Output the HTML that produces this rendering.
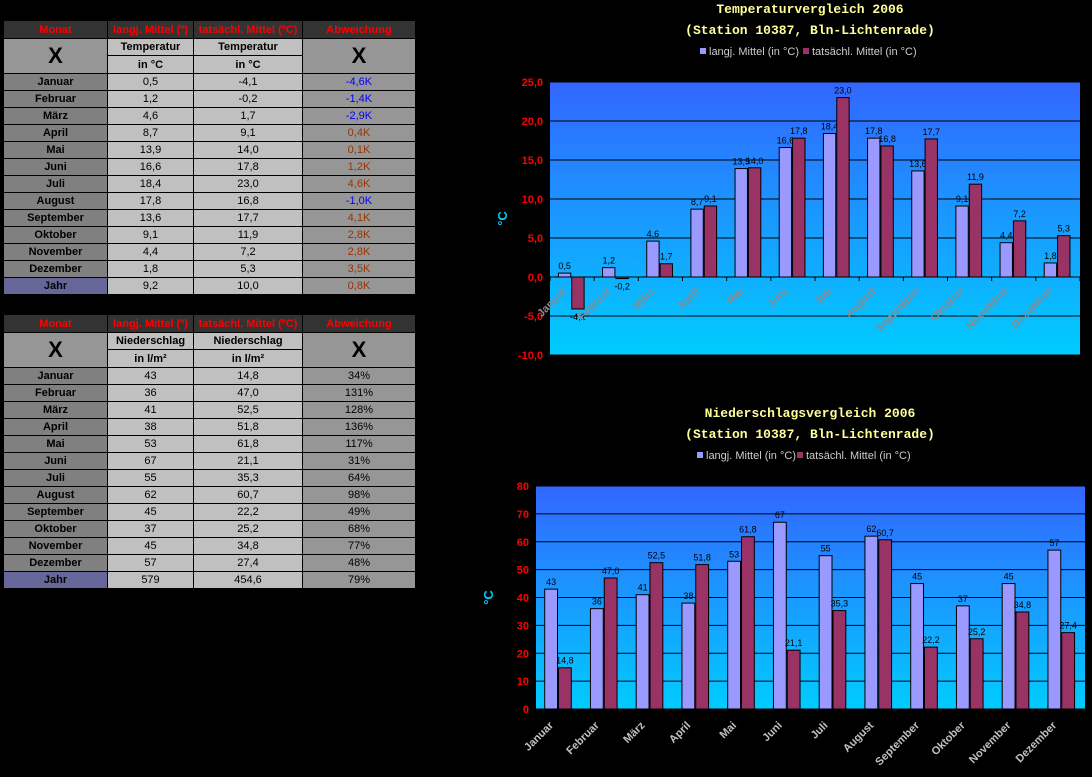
<!DOCTYPE html>
<html><head><meta charset="utf-8"><style>
body{margin:0;width:1092px;height:777px;background:#000;overflow:hidden;position:relative;font-family:"Liberation Sans",sans-serif}
.c{position:absolute;box-sizing:border-box;display:flex;align-items:center;justify-content:center;font-size:11px;color:#000;white-space:nowrap}
svg{position:absolute;left:0;top:0}
</style></head><body>
<div id="tables"></div>
<svg id="chart" width="1092" height="777"></svg>
<script>
const months=["Januar","Februar","März","April","Mai","Juni","Juli","August","September","Oktober","November","Dezember"];
const tempLong=[0.5,1.2,4.6,8.7,13.9,16.6,18.4,17.8,13.6,9.1,4.4,1.8];
const tempActual=[-4.1,-0.2,1.7,9.1,14.0,17.8,23.0,16.8,17.7,11.9,7.2,5.3];
const tempYearLong=9.2, tempYearActual=10.0;
const rainLong=[43,36,41,38,53,67,55,62,45,37,45,57];
const rainActual=[14.8,47.0,52.5,51.8,61.8,21.1,35.3,60.7,22.2,25.2,34.8,27.4];
const rainYearLong=579, rainYearActual=454.6;
const tempTicks=[25,20,15,10,5,0,-5,-10];
const rainTicks=[80,70,60,50,40,30,20,10,0];

const fmt1=v=>v.toFixed(1).replace('.',',');
const T=document.getElementById('tables');
const cols=[[4,107],[108,193],[194,302],[303,415]];
function cell(x1,x2,y,h,bg,txt,color,size,bold,name){
  const d=document.createElement('div');d.className='c';
  
  
  d.style.cssText+=`left:${x1}px;top:${y}px;width:${x2-x1}px;height:${h}px;background:${bg};color:${color};font-size:${size}px;font-weight:${bold?'bold':'normal'}`;
  d.textContent=txt;T.appendChild(d);
}
function table(y0,sub,unit,longArr,actArr,yl,ya,devFn,prefix,long0){
  const hdr=["Monat","langj. Mittel (º)","tatsächl. Mittel (ºC)","Abweichung"];
  hdr.forEach((h,i)=>cell(cols[i][0],cols[i][1],y0,17,'#333',h,'#ff0000',11,true,prefix+'-header-'+i));
  cell(cols[0][0],cols[0][1],y0+18,34,'#969696','X','#000',22,true,prefix+'-x-left');
  cell(cols[3][0],cols[3][1],y0+18,34,'#969696','X','#000',22,true,prefix+'-x-right');
  [1,2].forEach(i=>{cell(cols[i][0],cols[i][1],y0+18,16,'#c0c0c0',sub,'#000',11,true,prefix+'-sub-'+i);
    cell(cols[i][0],cols[i][1],y0+35,17,'#c0c0c0',unit,'#000',11,true,prefix+'-unit-'+i);});
  for(let r=0;r<13;r++){
    const y=y0+53+r*17;const isY=r==12;
    const l=isY?yl:longArr[r],a=isY?ya:actArr[r];
    cell(cols[0][0],cols[0][1],y,16,isY?'#666699':'#808080',isY?'Jahr':months[r],'#000',11,true,prefix+'-month-'+r);
    cell(cols[1][0],cols[1][1],y,16,'#c0c0c0',long0(l),'#000',11,false,prefix+'-long-'+r);
    cell(cols[2][0],cols[2][1],y,16,'#c0c0c0',fmt1(a),'#000',11,false,prefix+'-actual-'+r);
    const dv=devFn(l,a);
    cell(cols[3][0],cols[3][1],y,16,'#969696',dv[0],dv[1],11,false,prefix+'-dev-'+r);
  }
}
table(21,'Temperatur','in °C',tempLong,tempActual,tempYearLong,tempYearActual,
  (l,a)=>{const d=Math.round((a-l)*10)/10;return [fmt1(d)+'K',d<0?'#0000ff':'#993300'];},'temp',fmt1);
table(315,'Niederschlag','in l/m²',rainLong,rainActual,rainYearLong,rainYearActual,
  (l,a)=>[Math.round(a/l*100)+'%','#000'],'rain',v=>String(v));

const S=document.getElementById('chart');const NS='http://www.w3.org/2000/svg';
function el(t,a,txt){const e=document.createElementNS(NS,t);for(const k in a)e.setAttribute(k,a[k]);if(txt!=null)e.textContent=txt;S.appendChild(e);return e;}
const defs=el('defs',{});
defs.innerHTML='<linearGradient id="bg" x1="0" y1="0" x2="0" y2="1"><stop offset="0" stop-color="#3366ff"/><stop offset="1" stop-color="#00ccff"/></linearGradient>';

function chart(o){
  const {L,R,Tp,B,min,max,ticks,longV,actV,fmtL,fmtA,pre,titleY,legY,lblColor,inside}=o;
  const y=v=>Tp+(max-v)/(max-min)*(B-Tp);
  const cw=(R-L)/12;const x=i=>L+i*cw;
  let e=el('text',{x:810,y:titleY,'text-anchor':'middle','font-family':'Liberation Mono,monospace','font-weight':'bold','font-size':13,fill:'#ffff99'},o.title);
  
  e=el('text',{x:810,y:titleY+21,'text-anchor':'middle','font-family':'Liberation Mono,monospace','font-weight':'bold','font-size':13,fill:'#ffff99'},'(Station 10387, Bln-Lichtenrade)');
  
  [['#9999ff','langj. Mittel (in °C)',o.lx1],['#993366','tatsächl. Mittel (in °C)',o.lx2]].forEach((g,i)=>{
    e=el('rect',{x:g[2],y:legY-7,width:6,height:6,fill:g[0]});
    
    e=el('text',{x:g[2]+9,y:legY,'font-size':11,fill:'#ccc'},g[1]);
    
  });
  e=el('rect',{x:L,y:Tp,width:R-L,height:B-Tp,fill:'url(#bg)'});
  
  ticks.forEach(t=>{
    e=el('line',{x1:L,x2:R,y1:y(t),y2:y(t),stroke:'#000','stroke-width':1});
    
    e=el('text',{x:L-7,y:y(t)+4,'text-anchor':'end','font-size':11,'font-weight':'bold',fill:'#ff0000'},o.tickFmt(t));
    
  });
  e=el('text',{x:0,y:0,transform:`translate(${L-43},${(Tp+B)/2}) rotate(-90)`,'text-anchor':'middle','font-size':13,'font-weight':'bold',fill:'#00ccff'},'°C');
  
  const z=y(Math.max(min,0));
  for(let i=0;i<=12;i++){e=el('line',{x1:x(i),x2:x(i),y1:z,y2:z+4,stroke:'#000'});
    }
  const bw=cw*0.28;
  months.forEach((m,i)=>{
    [[longV[i],'#9999ff',x(i)+cw*0.19,fmtL,'long'],[actV[i],'#993366',x(i)+cw*0.19+bw+1,fmtA,'actual']].forEach(b=>{
      const v=b[0],y1=Math.min(y(v),z),h=Math.abs(y(v)-z);
      e=el('rect',{x:b[2],y:y1,width:bw,height:Math.max(h,1),fill:b[1],stroke:'#000','stroke-width':1});
      
      e=el('text',{x:b[2]+bw/2,y:v>=0?y(v)-4:y(v)+11,'text-anchor':'middle','font-size':9,fill:'#000'},b[3](v));
      
    });
    const cx=x(i)+cw/2-5,ly=inside?z+15:B+17;
    e=el('text',{x:cx,y:ly,transform:`rotate(-45 ${cx} ${ly})`,'text-anchor':'end','font-size':11,'font-weight':'bold',fill:lblColor},m);
    
  });
  e=el('line',{x1:L,x2:R,y1:z,y2:z,stroke:'#000'});
}
chart({L:550,R:1080,Tp:82,B:355,min:-10,max:25,ticks:tempTicks,longV:tempLong,actV:tempActual,
  fmtL:fmt1,fmtA:fmt1,pre:'temp-chart',title:'Temperaturvergleich 2006',titleY:13,legY:55,lx1:700,lx2:803,
  lblColor:'#8a8a8a',inside:true,tickFmt:fmt1});
chart({L:536,R:1085,Tp:486,B:709,min:0,max:80,ticks:rainTicks,longV:rainLong,actV:rainActual,
  fmtL:v=>String(v),fmtA:fmt1,pre:'rain-chart',title:'Niederschlagsvergleich 2006',titleY:417,legY:459,lx1:697,lx2:797,
  lblColor:'#c0c0c0',inside:false,tickFmt:v=>String(v)});
</script>
</body></html>
